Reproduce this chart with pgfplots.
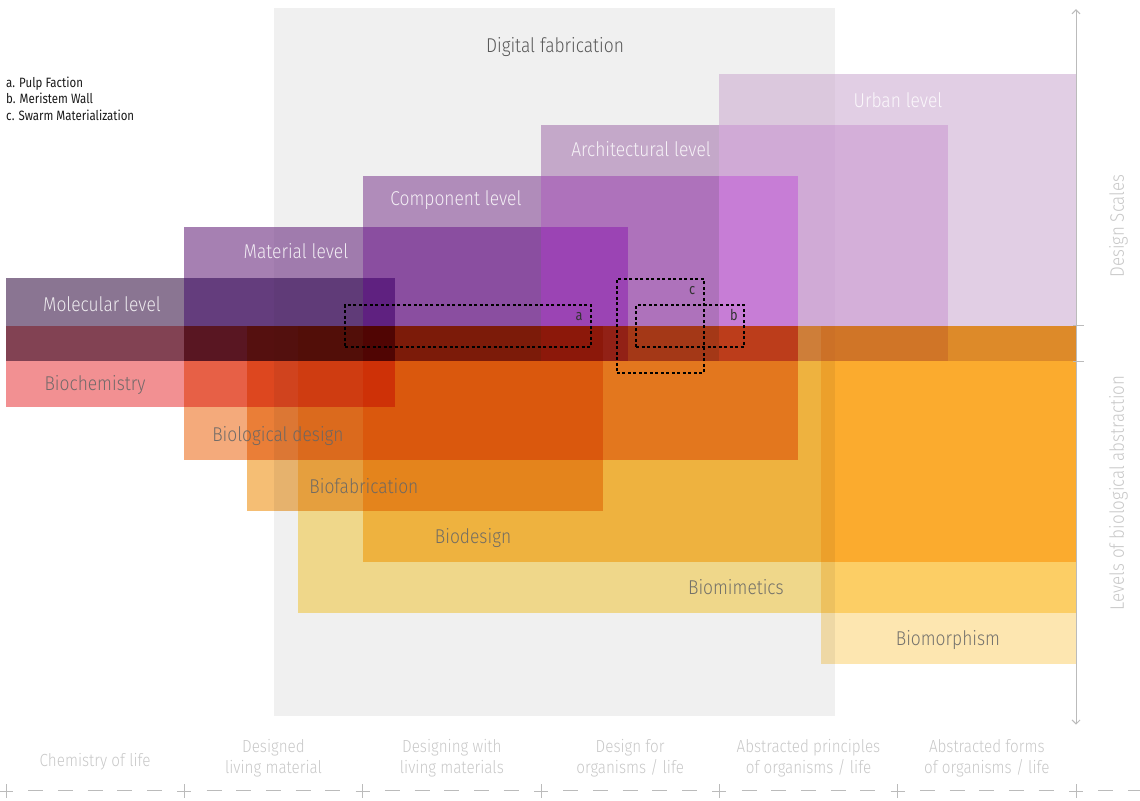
\documentclass[border=0pt]{standalone}
\usepackage{pgfplots}
\pgfplotsset{compat=1.18}
\usepackage{fontspec}
\setmainfont{Fira Sans Light}[FakeStretch=0.87]
\newfontfamily\legfont{Fira Sans}[FakeStretch=0.85]
\usetikzlibrary{arrows.meta}
% base layer
\definecolor{cGrey}{HTML}{F0F0F0}
% levels of biological abstraction (multiplied)
\definecolor{cBiochem}{HTML}{F29092}
\definecolor{cBiolog}{HTML}{F4AA7B}
\definecolor{cBiofab}{HTML}{F5BE74}
\definecolor{cBiodes}{HTML}{FED476}
\definecolor{cBiomim}{HTML}{FEE593}
\definecolor{cBiomor}{HTML}{FDE6B0}
% design scales: colours of each overlap cell
\definecolor{pU}{HTML}{E1CEE4}
\definecolor{pUg}{HTML}{DBC8DD}
\definecolor{pA}{HTML}{C4A8C9}
\definecolor{pAU}{HTML}{D4AFD9}
\definecolor{pAUg}{HTML}{D0AAD6}
\definecolor{pC}{HTML}{B08CBA}
\definecolor{pCA}{HTML}{AE72BB}
\definecolor{pCAU}{HTML}{C77DD6}
\definecolor{pM}{HTML}{A680B2}
\definecolor{pMg}{HTML}{A07BAD}
\definecolor{pMC}{HTML}{8A4EA0}
\definecolor{pMCA}{HTML}{9B44B4}
\definecolor{pL}{HTML}{8A7592}
\definecolor{pLM}{HTML}{643D7D}
\definecolor{pLMg}{HTML}{603B78}
\definecolor{pLMC}{HTML}{5F2180}
\definecolor{cAxis}{HTML}{BBBBBB}
\definecolor{cCat}{HTML}{C8C8C8}
\definecolor{cLab}{HTML}{666666}
% rectangle: colour, x1, x2, y1, y2
\newcommand{\mrect}[5]{\addplot[draw=none, fill=#1, blend mode=multiply] coordinates {(#2,#4) (#3,#4) (#3,#5) (#2,#5)} -- cycle;}
\newcommand{\prect}[5]{\addplot[draw=none, fill=#1] coordinates {(#2,#4) (#3,#4) (#3,#5) (#2,#5)} -- cycle;}
\newcommand{\dbox}[4]{\addplot[draw=black, line width=1.2bp, dash pattern=on 3bp off 2.5bp, fill=none] coordinates {(#1,#3) (#2,#3) (#2,#4) (#1,#4)} -- cycle;}
\begin{document}
\begin{tikzpicture}
\begin{axis}[
  at={(0,0)}, anchor=south west,
  scale only axis, width=1140bp, height=801bp,
  xmin=-0.03364, xmax=6.35888,
  ymin=-1.66667, ymax=14.03922,
  axis line style={draw=none},
  major tick length=0pt,
  ytick=\empty,
  xtick={0.5,1.5,2.5,3.5,4.5,5.5},
  xticklabels={{\raisebox{-9bp}[0pt][0pt]{Chemistry of life}}, {Designed\\living material}, {Designing with\\living materials}, {Design for\\organisms / life}, {Abstracted principles\\of organisms / life}, {Abstracted forms\\of organisms / life}},
  xticklabel style={anchor=center, yshift=43bp, align=center, text=cCat, font=\fontsize{17.5bp}{21bp}\selectfont},
  clip=false,
]
% Digital fabrication
\addplot[draw=none, fill=cGrey] coordinates {(1.5,0) (4.65,0) (4.65,13.88) (1.5,13.88)} -- cycle;
% Design scales (Urban, Architectural, Component, Material, Molecular) -- cells of overlap
\prect{pUg}{4}{4.65}{11.59}{12.59}
\prect{pU}{4.65}{6}{11.59}{12.59}
\prect{pU}{5.28}{6}{6.96}{11.59}
\prect{pA}{3}{4}{10.59}{11.59}
\prect{pAUg}{4}{4.65}{10.59}{11.59}
\prect{pAU}{4.65}{5.28}{10.59}{11.59}
\prect{pAUg}{4.44}{4.65}{6.96}{10.59}
\prect{pAU}{4.65}{5.28}{6.96}{10.59}
\prect{pC}{2}{3}{9.59}{10.59}
\prect{pCA}{3}{4}{9.59}{10.59}
\prect{pCA}{3.49}{4}{6.96}{9.59}
\prect{pCAU}{4}{4.44}{6.96}{10.59}
\prect{pM}{1}{1.5}{8.59}{9.59}
\prect{pMg}{1.5}{2}{8.59}{9.59}
\prect{pMC}{2}{3}{8.59}{9.59}
\prect{pMC}{2.18}{3}{6.96}{8.59}
\prect{pMCA}{3}{3.49}{6.96}{9.59}
\prect{pL}{0}{1}{6.96}{8.59}
\prect{pLM}{1}{1.5}{6.96}{8.59}
\prect{pLMg}{1.5}{2}{6.96}{8.59}
\prect{pLMC}{2}{2.18}{6.96}{8.59}
% Levels of biological abstraction (multiplied)
\mrect{cBiochem}{0}{2.18}{6.06}{7.65}
\mrect{cBiolog}{1}{4.44}{5.02}{7.65}
\mrect{cBiofab}{1.35}{3.35}{4.02}{7.65}
\mrect{cBiodes}{2}{6}{3.02}{7.65}
\mrect{cBiomim}{1.64}{6}{2.02}{7.65}
\mrect{cBiomor}{4.57}{6}{1.02}{7.65}
% projects
\dbox{1.901}{3.280}{7.235}{8.059}
\dbox{3.533}{4.138}{7.235}{8.059}
\dbox{3.426}{3.914}{6.725}{8.569}
% bottom axis pluses
\addplot[only marks, mark=+, mark size=7bp, color=cAxis, mark options={line width=0.9bp}] coordinates {(0,-1.4706) (1,-1.4706) (2,-1.4706) (3,-1.4706) (4,-1.4706) (5,-1.4706) (6,-1.4706)};
% right axis
\draw[cAxis, line width=1bp, {Straight Barb[length=4bp,width=8bp]}-{Straight Barb[length=4bp,width=8bp]}] (axis cs:6,13.86) -- (axis cs:6,-0.17);
\draw[cAxis, line width=1bp] (axis cs:5.985,7.65) -- (axis cs:6.045,7.65);
\draw[cAxis, line width=1bp] (axis cs:5.985,6.96) -- (axis cs:6.045,6.96);
\node[rotate=90, anchor=base, text=cCat, font=\fontsize{19.5bp}{22bp}\selectfont] at (axis cs:6.269,9.608) {Design Scales};
\node[rotate=90, anchor=base, text=cCat, font=\fontsize{19.5bp}{22bp}\selectfont] at (axis cs:6.269,4.373) {Levels of biological abstraction};
% labels
\tikzset{lab/.style={anchor=base, inner sep=0pt, font=\fontsize{20bp}{24bp}\selectfont}}
\node[lab, text=black!65] at (axis cs:3.0785,13.0) {Digital fabrication};
\node[lab, text=white, text opacity=0.85] at (axis cs:5.002,11.941) {Urban level};
\node[lab, text=white, text opacity=0.85] at (axis cs:3.561,10.961) {Architectural level};
\node[lab, text=white, text opacity=0.85] at (axis cs:2.523,10.0) {Component level};
\node[lab, text=white, text opacity=0.85] at (axis cs:1.626,8.980) {Material level};
\node[lab, text=white, text opacity=0.85] at (axis cs:0.538,7.941) {Molecular level};
\node[lab, text=cLab, text opacity=0.9] at (axis cs:0.499,6.392) {Biochemistry};
\node[lab, text=cLab, text opacity=0.9] at (axis cs:1.525,5.392) {Biological design};
\node[lab, text=cLab, text opacity=0.9] at (axis cs:2.007,4.353) {Biofabrication};
\node[lab, text=cLab, text opacity=0.9] at (axis cs:2.619,3.373) {Biodesign};
\node[lab, text=cLab, text opacity=0.9] at (axis cs:4.093,2.373) {Biomimetics};
\node[lab, text=cLab, text opacity=0.9] at (axis cs:5.282,1.392) {Biomorphism};
% dashed box letters
\tikzset{let/.style={anchor=base, inner sep=0pt, text=black!80, font=\legfont\fontsize{15bp}{17bp}\selectfont}}
\node[let] at (axis cs:3.213,7.745) {a};
\node[let] at (axis cs:4.082,7.745) {b};
\node[let] at (axis cs:3.847,8.255) {c};
% legend
\tikzset{leg/.style={anchor=base west, inner sep=0pt, text=black!90, font=\legfont\fontsize{13.5bp}{16bp}\selectfont}}
\node[leg] at (axis cs:0,12.333) {a. Pulp Faction};
\node[leg] at (axis cs:0,12.0) {b. Meristem Wall};
\node[leg] at (axis cs:0,11.667) {c. Swarm Materialization};
\end{axis}
% bottom dashed axis line (decoration)
\draw[cAxis, line width=1bp, dash pattern=on 15bp off 14.72bp on 15bp off 14.72bp on 15bp off 14.72bp on 15bp off 14.72bp on 15bp off 44.44bp] (28.22bp,10bp) -- (1140bp,10bp);
\pgfresetboundingbox
\path[use as bounding box] (0,0) rectangle (1140bp,801bp);
\end{tikzpicture}
\end{document}
